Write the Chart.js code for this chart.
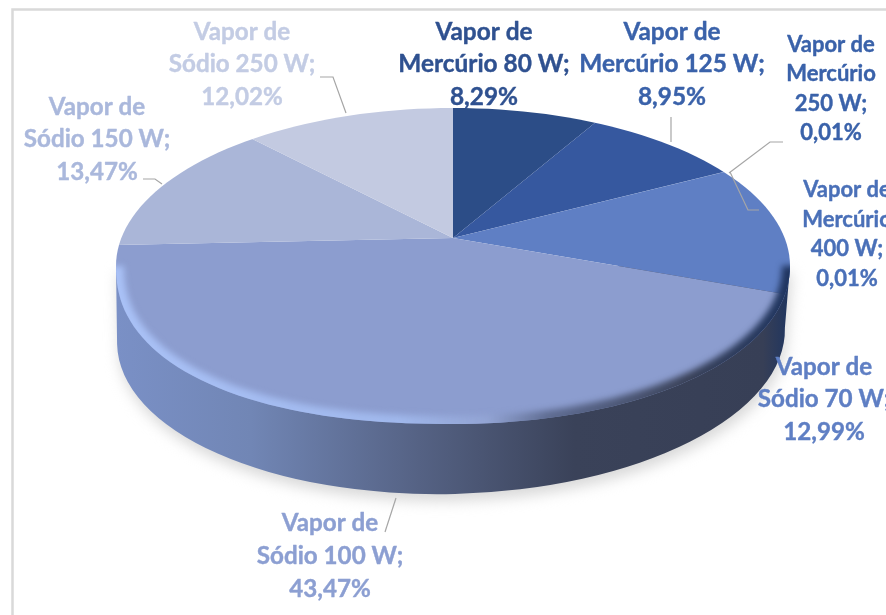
<!DOCTYPE html>
<html><head><meta charset="utf-8">
<style>html,body{margin:0;padding:0;background:#fff;overflow:hidden}canvas{display:block}</style>
<script src="https://cdn.jsdelivr.net/npm/chart.js@4"></script>
</head><body><canvas id="c" width="886" height="615"></canvas>
<script>
const categories = [
  ['Vapor de','Mercúrio 80 W;'],
  ['Vapor de','Mercúrio 125 W;'],
  ['Vapor de','Mercúrio','250 W;'],
  ['Vapor de','Mercúrio','400 W;'],
  ['Vapor de','Sódio 70 W;'],
  ['Vapor de','Sódio 100 W;'],
  ['Vapor de','Sódio 150 W;'],
  ['Vapor de','Sódio 250 W;']
];
const percentages = [8.29, 8.95, 0.01, 0.01, 12.99, 43.47, 13.47, 12.02];
const sliceColors = ['#2c4d87','#36589f','#3f66ad','#4a70b8','#5f7fc4','#8c9dcf','#aab6d8','#c3cae1'];
const labelColors = ['#2f5190','#3a62aa','#3a62aa','#4a70b8','#5f7fc4','#8c9fd2','#aab8dc','#c3cce4'];
const labelBoxes = [
  {x:484,y:32,size:24.4,lh:32.5},{x:672,y:32,size:24.4,lh:32.5},{x:831,y:45,size:22,lh:29.3},
  {x:847,y:190,size:22,lh:29.5},{x:824,y:367,size:24.2,lh:32.5},{x:330,y:523,size:24.2,lh:33},
  {x:97,y:107,size:24.2,lh:32.5},{x:242,y:32,size:24.2,lh:32.5}
];
const leaders = [
  [[320,77],[333,77],[346,113]],
  [[143,179],[155,179],[162,184]],
  [[671,117],[671,142]],
  [[783,142],[770,142],[729,173]],
  [[759,210],[748,210],[730,172]],
  [[385,532],[396,498]]
];
const apex = {x:453,y:238}, tilt = 0.47;
const face = {x:453,y:266,rx:337,ry:158};
const base = {x:451,y:336,rx:334,ry:158,rot:-0.025};

// outline of the top disc: the front bulges slightly (perspective)
function traceFace(ctx,front){
  const N=180;
  for(let i=0;i<=N;i++){
    const a=i/N*Math.PI*2, c=Math.cos(a), s=Math.sin(a);
    if(front && s<0) continue;
    let p=2;
    if(s>0) p = c<0 ? 2.25 : 2.05;
    const k=Math.pow(Math.pow(Math.abs(c),p)+Math.pow(Math.abs(s),p),-1/p);
    const x=face.x+face.rx*c*k, y=face.y+face.ry*s*k;
    if(front? i===0 : i===0) ctx.moveTo(x,y); else ctx.lineTo(x,y);
  }
}
function wallPath(ctx){
  ctx.beginPath();
  ctx.moveTo(face.x-face.rx,face.y);
  ctx.ellipse(base.x,base.y,base.rx,base.ry,base.rot,Math.PI,0,true);
  ctx.lineTo(face.x+face.rx,face.y);
  ctx.closePath();
}

const pie3d = {
  id:'pie3d',
  beforeDatasetsDraw(chart){
    const ctx = chart.ctx;
    ctx.save();
    ctx.fillStyle='#fff';ctx.fillRect(0,0,886,615);
    ctx.strokeStyle='#d9d9d9';ctx.lineWidth=2.5;
    ctx.beginPath();ctx.moveTo(12.5,615);ctx.lineTo(12.5,9.5);ctx.lineTo(886,9.5);ctx.stroke();
    // soft ground shadow
    ctx.save();
    ctx.filter='blur(7px)';ctx.fillStyle='#d8d8d8';
    ctx.translate(2,7);wallPath(ctx);ctx.fill();
    ctx.restore();
    // side wall
    const g = ctx.createLinearGradient(face.x-face.rx,0,face.x+face.rx,0);
    g.addColorStop(0,'#7a90c6');g.addColorStop(0.2,'#7186b5');g.addColorStop(0.45,'#556284');
    g.addColorStop(0.68,'#3a4259');g.addColorStop(0.96,'#373f56');g.addColorStop(1,'#1f3560');
    ctx.fillStyle=g;
    wallPath(ctx);ctx.fill();
    ctx.restore();
    // top face: the library's arcs, tilted around the apex and clipped to the disc
    const arc = chart.getDatasetMeta(0).data[0];
    ctx.save();
    ctx.beginPath();traceFace(ctx);ctx.closePath();ctx.clip();
    ctx.translate(apex.x,apex.y);ctx.scale(1,tilt);ctx.translate(-arc.x,-arc.y);
  },
  afterDatasetsDraw(chart){
    const ctx = chart.ctx;
    ctx.restore();
    // bevel on the front rim
    ctx.save();
    ctx.beginPath();traceFace(ctx);ctx.closePath();ctx.clip();
    const r = ctx.createLinearGradient(face.x-face.rx,0,face.x+face.rx,0);
    r.addColorStop(0,'#a9c1f6');r.addColorStop(0.42,'#a0b8ec');r.addColorStop(0.55,'rgba(150,168,215,0.7)');
    r.addColorStop(0.64,'rgba(80,92,125,0.75)');r.addColorStop(0.85,'#3a4259');r.addColorStop(1,'#1f3560');
    ctx.filter='blur(3px)';
    ctx.strokeStyle=r;ctx.lineWidth=16;
    ctx.beginPath();traceFace(ctx,true);ctx.stroke();
    ctx.restore();
  },
  afterDraw(chart){
    const ctx = chart.ctx;
    ctx.save();
    ctx.strokeStyle='#a6a6a6';ctx.lineWidth=1.2;
    leaders.forEach(pts=>{
      ctx.beginPath();pts.forEach((p,i)=>i?ctx.lineTo(p[0],p[1]):ctx.moveTo(p[0],p[1]));ctx.stroke();
    });
    ctx.textAlign='center';ctx.textBaseline='middle';ctx.lineJoin='round';
    categories.forEach((lines,i)=>{
      const b = labelBoxes[i];
      ctx.font='bold '+b.size+'px Lato';
      ctx.fillStyle=labelColors[i];ctx.strokeStyle=labelColors[i];ctx.lineWidth=0.4;
      const pct = percentages[i].toFixed(2).replace('.',',')+'%';
      lines.concat([pct]).forEach((t,k)=>{ctx.fillText(t,b.x,b.y+k*b.lh);ctx.strokeText(t,b.x,b.y+k*b.lh);});
    });
    ctx.restore();
  }
};

new Chart(document.getElementById('c'),{
  type:'pie',
  data:{labels:categories,datasets:[{data:percentages,backgroundColor:sliceColors,borderWidth:0,clip:false}]},
  options:{
    responsive:false,animation:false,radius:520,
    events:[],
    layout:{padding:0},
    plugins:{legend:{display:false},tooltip:{enabled:false},title:{display:false}}
  },
  plugins:[pie3d]
});
</script></body></html>
